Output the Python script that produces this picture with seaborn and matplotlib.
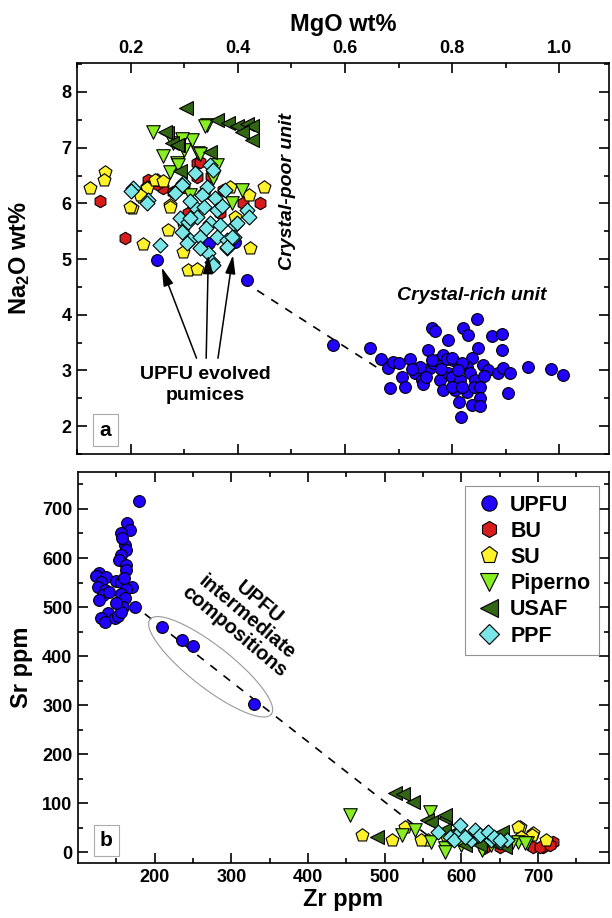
import numpy as np
import pandas as pd
import matplotlib
matplotlib.use("Agg")
import matplotlib.pyplot as plt
from matplotlib.lines import Line2D
import seaborn as sns

# ---------------- data : panel a (MgO wt%, Na2O wt%) ----------------
upfu_mgo = [0.578, 0.647, 0.668, 0.681, 0.690, 0.701, 0.721, 0.706, 0.684, 0.712, 0.731, 0.743,
            0.746, 0.755, 0.762, 0.768, 0.759, 0.765, 0.771, 0.783, 0.790, 0.802, 0.792, 0.777,
            0.783, 0.793, 0.799, 0.805, 0.815, 0.813, 0.816, 0.821, 0.830, 0.836, 0.827, 0.833,
            0.827, 0.846, 0.849, 0.843, 0.840, 0.852, 0.852, 0.836, 0.852, 0.858, 0.867, 0.874,
            0.892, 0.892, 0.886, 0.895, 0.908, 0.905, 0.942, 0.984, 1.007, 0.740, 0.799, 0.818,
            0.752, 0.799, 0.818, 0.762, 0.725, 0.780, 0.810, 0.860,
            0.249, 0.347, 0.417, 0.395]
upfu_na2o = [3.46, 3.40, 3.21, 3.04, 3.16, 3.14, 3.21, 2.89, 2.68, 2.70, 2.95, 2.83,
             2.76, 3.37, 3.76, 3.71, 3.04, 3.13, 3.19, 3.28, 3.21, 3.19, 3.55, 2.83,
             2.65, 2.95, 2.89, 2.65, 2.83, 2.44, 2.17, 3.76, 3.64, 3.22, 3.07, 2.95,
             2.62, 3.92, 3.40, 2.83, 2.71, 2.71, 2.50, 2.38, 2.36, 3.10, 3.01, 3.62,
             3.66, 3.37, 2.95, 3.04, 2.96, 2.59, 3.06, 3.02, 2.91, 3.07, 3.22, 3.13,
             2.89, 2.71, 2.71, 3.19, 3.02, 3.02, 3.00, 2.90,
             4.98, 5.29, 4.62, 5.31]

bu_mgo = [0.142, 0.190, 0.239, 0.261, 0.323, 0.323, 0.233, 0.329, 0.441, 0.410, 0.373, 0.308,
          0.367, 0.250, 0.280, 0.350, 0.300]
bu_na2o = [6.04, 5.38, 6.39, 6.27, 6.72, 6.48, 6.42, 6.75, 6.01, 6.00, 6.24, 5.82,
           5.82, 6.35, 6.20, 6.50, 6.30]

su_mgo = [0.152, 0.150, 0.124, 0.202, 0.230, 0.221, 0.274, 0.270, 0.249, 0.199, 0.223, 0.274,
          0.230, 0.245, 0.218, 0.298, 0.308, 0.323, 0.448, 0.423, 0.420, 0.395, 0.336, 0.385,
          0.260, 0.300]
su_na2o = [6.57, 6.42, 6.27, 5.91, 6.30, 6.12, 5.97, 5.52, 6.42, 5.94, 5.27, 5.94,
           6.27, 6.42, 6.15, 5.13, 4.80, 4.83, 6.29, 5.19, 6.15, 5.76, 6.18, 6.30,
           6.40, 5.60]

pip_mgo = [0.242, 0.314, 0.280, 0.295, 0.261, 0.286, 0.274, 0.325, 0.342, 0.329, 0.361, 0.354,
           0.407, 0.389, 0.311, 0.339, 0.289, 0.300]
pip_na2o = [7.28, 7.14, 7.08, 7.15, 6.85, 6.72, 6.57, 6.90, 7.41, 6.89, 6.69, 6.45,
            6.24, 6.00, 6.15, 7.38, 6.69, 6.95]

usaf_mgo = [0.303, 0.361, 0.382, 0.399, 0.417, 0.426, 0.426, 0.407, 0.267, 0.277, 0.289, 0.348,
            0.292, 0.264, 0.286]
usaf_na2o = [7.71, 7.50, 7.45, 7.38, 7.43, 7.38, 7.14, 7.29, 7.26, 7.08, 7.05, 6.93,
             6.58, 7.28, 7.05]

ppf_mgo = [0.205, 0.233, 0.255, 0.298, 0.286, 0.348, 0.342, 0.333, 0.357, 0.376, 0.320, 0.336,
           0.361, 0.417, 0.420, 0.292, 0.308, 0.323, 0.348, 0.367, 0.395, 0.295, 0.311, 0.329,
           0.361, 0.379, 0.392, 0.305, 0.379, 0.345, 0.351, 0.200, 0.230, 0.295, 0.283, 0.311,
           0.354, 0.398, 0.389, 0.379, 0.354, 0.310, 0.340, 0.370, 0.320, 0.330]
ppf_na2o = [6.27, 6.06, 5.25, 6.36, 6.24, 6.69, 6.30, 6.15, 6.09, 6.24, 5.94, 5.94,
            5.88, 5.88, 5.76, 5.73, 5.67, 5.76, 5.64, 5.61, 5.61, 5.49, 5.34, 5.40,
            5.40, 5.34, 5.40, 5.28, 5.19, 5.10, 4.95, 6.22, 6.00, 6.33, 6.18, 5.73,
            6.60, 5.64, 5.40, 5.22, 4.89, 6.05, 5.55, 5.95, 6.55, 5.20]

# ---------------- data : panel b (Zr ppm, Sr ppm) ----------------
upfu_zr = [179, 164, 168, 156, 161, 162, 156, 153, 162, 163, 127, 124, 137, 149, 130, 156,
           126, 170, 163, 135, 133, 156, 161, 127, 159, 174, 139, 130, 135, 148, 152, 156,
           150, 140, 160, 158, 210, 236, 250, 330]
upfu_sr = [717, 671, 657, 650, 627, 616, 606, 596, 586, 575, 569, 563, 561, 554, 552, 552,
           541, 541, 536, 535, 524, 527, 518, 514, 501, 501, 487, 477, 470, 477, 482, 490,
           508, 530, 560, 640, 459, 433, 421, 303]

bu_zr = [694, 707, 720, 703, 650, 630, 715]
bu_sr = [11, 11, 21, 11, 10, 8, 15]

su_zr = [470, 510, 527, 557, 548, 677, 694, 711, 674, 692, 678, 620, 580]
su_sr = [35, 24, 52, 24, 24, 52, 38, 24, 52, 35, 31, 30, 35]

pip_zr = [455, 559, 522, 539, 579, 674, 685, 665, 639, 579, 683, 627, 600, 560]
pip_sr = [75, 82, 35, 45, 8, 21, 18, 14, 14, 1, 18, 4, 15, 20]

usaf_zr = [514, 524, 537, 555, 561, 579, 577, 605, 624, 657, 579, 605, 653, 490, 590, 640]
usaf_sr = [120, 118, 103, 65, 62, 69, 45, 28, 14, 11, 75, 14, 41, 30, 40, 20]

ppf_zr = [585, 598, 613, 622, 633, 639, 650, 659, 590, 598, 618, 624, 635, 642, 650, 605, 570]
ppf_sr = [31, 41, 24, 35, 38, 24, 21, 24, 24, 55, 45, 35, 41, 31, 24, 30, 40]

units = ["UPFU", "BU", "SU", "Piperno", "USAF", "PPF"]
colors = {"UPFU": "#2200ff", "BU": "#d81c1c", "SU": "#fff22a", "Piperno": "#88ee22",
          "USAF": "#336614", "PPF": "#7ae6e8"}
markers = {"UPFU": "o", "BU": "h", "SU": "p", "Piperno": "v", "USAF": "<", "PPF": "D"}
sizes = {"UPFU": 72, "BU": 80, "SU": 95, "Piperno": 95, "USAF": 100, "PPF": 58}

top = pd.concat([
    pd.DataFrame({"MgO": upfu_mgo, "Na2O": upfu_na2o, "unit": "UPFU"}),
    pd.DataFrame({"MgO": bu_mgo, "Na2O": bu_na2o, "unit": "BU"}),
    pd.DataFrame({"MgO": su_mgo, "Na2O": su_na2o, "unit": "SU"}),
    pd.DataFrame({"MgO": pip_mgo, "Na2O": pip_na2o, "unit": "Piperno"}),
    pd.DataFrame({"MgO": usaf_mgo, "Na2O": usaf_na2o, "unit": "USAF"}),
    pd.DataFrame({"MgO": ppf_mgo, "Na2O": ppf_na2o, "unit": "PPF"}),
], ignore_index=True)
bot = pd.concat([
    pd.DataFrame({"Zr": upfu_zr, "Sr": upfu_sr, "unit": "UPFU"}),
    pd.DataFrame({"Zr": bu_zr, "Sr": bu_sr, "unit": "BU"}),
    pd.DataFrame({"Zr": su_zr, "Sr": su_sr, "unit": "SU"}),
    pd.DataFrame({"Zr": pip_zr, "Sr": pip_sr, "unit": "Piperno"}),
    pd.DataFrame({"Zr": usaf_zr, "Sr": usaf_sr, "unit": "USAF"}),
    pd.DataFrame({"Zr": ppf_zr, "Sr": ppf_sr, "unit": "PPF"}),
], ignore_index=True)

# ---------------- style ----------------
sns.set_style("ticks")
plt.rcParams["font.family"] = ["Liberation Sans", "DejaVu Sans"]
plt.rcParams["font.weight"] = "bold"
plt.rcParams["axes.labelweight"] = "bold"
plt.rcParams["mathtext.default"] = "regular"
plt.rcParams["axes.linewidth"] = 1.2
for k in ["text.color", "axes.labelcolor", "xtick.color", "ytick.color", "axes.edgecolor",
          "xtick.labelcolor", "ytick.labelcolor"]:
    plt.rcParams[k] = "black"

fig = plt.figure(figsize=(6.12, 9.18), dpi=100)
ax_a = fig.add_axes([77 / 612, 1 - 454 / 918, 532 / 612, 391 / 918])
ax_b = fig.add_axes([78 / 612, 1 - 863 / 918, 531 / 612, 391 / 918])

for ax, df, xc, yc in [(ax_a, top, "MgO", "Na2O"), (ax_b, bot, "Zr", "Sr")]:
    for u in units:
        sub = df[df["unit"] == u]
        sns.scatterplot(data=sub, x=xc, y=yc, ax=ax, color=colors[u], marker=markers[u],
                        s=sizes[u], edgecolor="black", linewidth=0.8, legend=False, zorder=3)

# ---------------- axes a ----------------
ax_a.set_xlim(0.1, 1.0925)
ax_a.set_ylim(1.5, 8.52)
ax_a.set_xticks([0.2, 0.4, 0.6, 0.8, 1.0])
ax_a.set_xticklabels(["0.2", "0.4", "0.6", "0.8", "1.0"])
ax_a.set_xticks(np.arange(0.1, 1.09, 0.1), minor=True)
ax_a.set_yticks([2, 3, 4, 5, 6, 7, 8])
ax_a.set_yticks(np.arange(1.5, 8.6, 0.5), minor=True)
ax_a.xaxis.set_label_position("top")
ax_a.tick_params(labeltop=True, labelbottom=False)
ax_a.set_xlabel("MgO wt%", fontsize=17, labelpad=7)
ax_a.set_ylabel("Na$_2$O wt%", fontsize=17)

# ---------------- axes b ----------------
ax_b.set_xlim(100, 792.6)
ax_b.set_ylim(-22.4, 775.5)
ax_b.set_xticks([200, 300, 400, 500, 600, 700])
ax_b.set_xticks(np.arange(150, 790, 50), minor=True)
ax_b.set_yticks([0, 100, 200, 300, 400, 500, 600, 700])
ax_b.set_yticks(np.arange(50, 775, 50), minor=True)
ax_b.set_xlabel("Zr ppm", fontsize=17, labelpad=2)
ax_b.set_ylabel("Sr ppm", fontsize=17)

for ax in (ax_a, ax_b):
    ax.tick_params(which="both", direction="in", top=True, right=True, bottom=True, left=True,
                   width=1.2, labelsize=13, pad=4, colors="black")
    ax.tick_params(which="major", length=7)
    ax.tick_params(which="minor", length=3.5)
    for lab in ax.get_xticklabels() + ax.get_yticklabels():
        lab.set_fontweight("bold")
    ax.yaxis.set_label_coords(-0.085, 0.5)
    for sp in ax.spines.values():
        sp.set_linewidth(1.2)
        sp.set_color("black")

# ---------------- annotations a ----------------
ax_a.plot([0.41, 0.665], [4.60, 3.02], color="black", lw=1.2, dashes=(5, 5), zorder=2)
ax_a.text(0.493, 6.22, "Crystal-poor unit", rotation=90, ha="center", va="center",
          fontsize=14, fontstyle="italic", fontweight="bold")
ax_a.text(0.836, 4.35, "Crystal-rich unit", ha="center", va="center",
          fontsize=14, fontstyle="italic", fontweight="bold")
ax_a.text(0.339, 2.74, "UPFU evolved\npumices", ha="center", va="center",
          fontsize=14, fontweight="bold", linespacing=1.25)
arrow_starts = [(0.323, 3.22), (0.341, 3.22), (0.363, 3.22)]
arrow_tips = [(0.258, 4.85), (0.345, 5.07), (0.391, 5.07)]
for st, tp in zip(arrow_starts, arrow_tips):
    ax_a.annotate("", xy=tp, xytext=st,
                  arrowprops=dict(arrowstyle="-|>,head_length=0.8,head_width=0.22",
                                  color="black", lw=1.1, mutation_scale=14,
                                  shrinkA=0, shrinkB=0), zorder=4)
ax_a.text(0.0536, 0.061, "a", transform=ax_a.transAxes, ha="center", va="center",
          fontsize=15, fontweight="bold",
          bbox=dict(boxstyle="square,pad=0.3", fc="white", ec="#aaaaaa", lw=0.8))

# ---------------- annotations b ----------------
ax_b.plot([170, 555], [507, 35], color="black", lw=1.2, dashes=(5, 5), zorder=2)
ax_b.text(320, 480, "UPFU\nintermediate\ncompositions", rotation=-40, ha="center", va="center",
          fontsize=14.5, fontweight="bold", linespacing=1.0, rotation_mode="anchor")
# ellipse drawn in pixel space around intermediate compositions
cx, cy = ax_b.transData.transform((273, 378))
t = np.linspace(0, 2 * np.pi, 200)
a_px, b_px, ang = 77.0, 21.0, np.deg2rad(-38)
ex = cx + a_px * np.cos(t) * np.cos(ang) - b_px * np.sin(t) * np.sin(ang)
ey = cy + a_px * np.cos(t) * np.sin(ang) + b_px * np.sin(t) * np.cos(ang)
exy = ax_b.transData.inverted().transform(np.column_stack([ex, ey]))
ax_b.plot(exy[:, 0], exy[:, 1], color="#999999", lw=0.8, zorder=2)
ax_b.text(0.0537, 0.0575, "b", transform=ax_b.transAxes, ha="center", va="center",
          fontsize=15, fontweight="bold",
          bbox=dict(boxstyle="square,pad=0.3", fc="white", ec="#aaaaaa", lw=0.8))

handles = [Line2D([], [], linestyle="none", marker=markers[u], markersize=np.sqrt(sizes[u]) * 1.3,
                  markerfacecolor=colors[u], markeredgecolor="black", markeredgewidth=0.8)
           for u in units]
leg = ax_b.legend(handles, units, loc="upper right", bbox_to_anchor=(0.981, 0.964),
                  borderaxespad=0, frameon=True, fancybox=False, edgecolor="#777777",
                  fontsize=15.5, handletextpad=0.3, labelspacing=0.24, borderpad=0.4,
                  handlelength=1.4)
leg.get_frame().set_linewidth(0.8)
for txt in leg.get_texts():
    txt.set_fontweight("bold")
    txt.set_color("black")

fig.savefig("out.png", dpi=100)
